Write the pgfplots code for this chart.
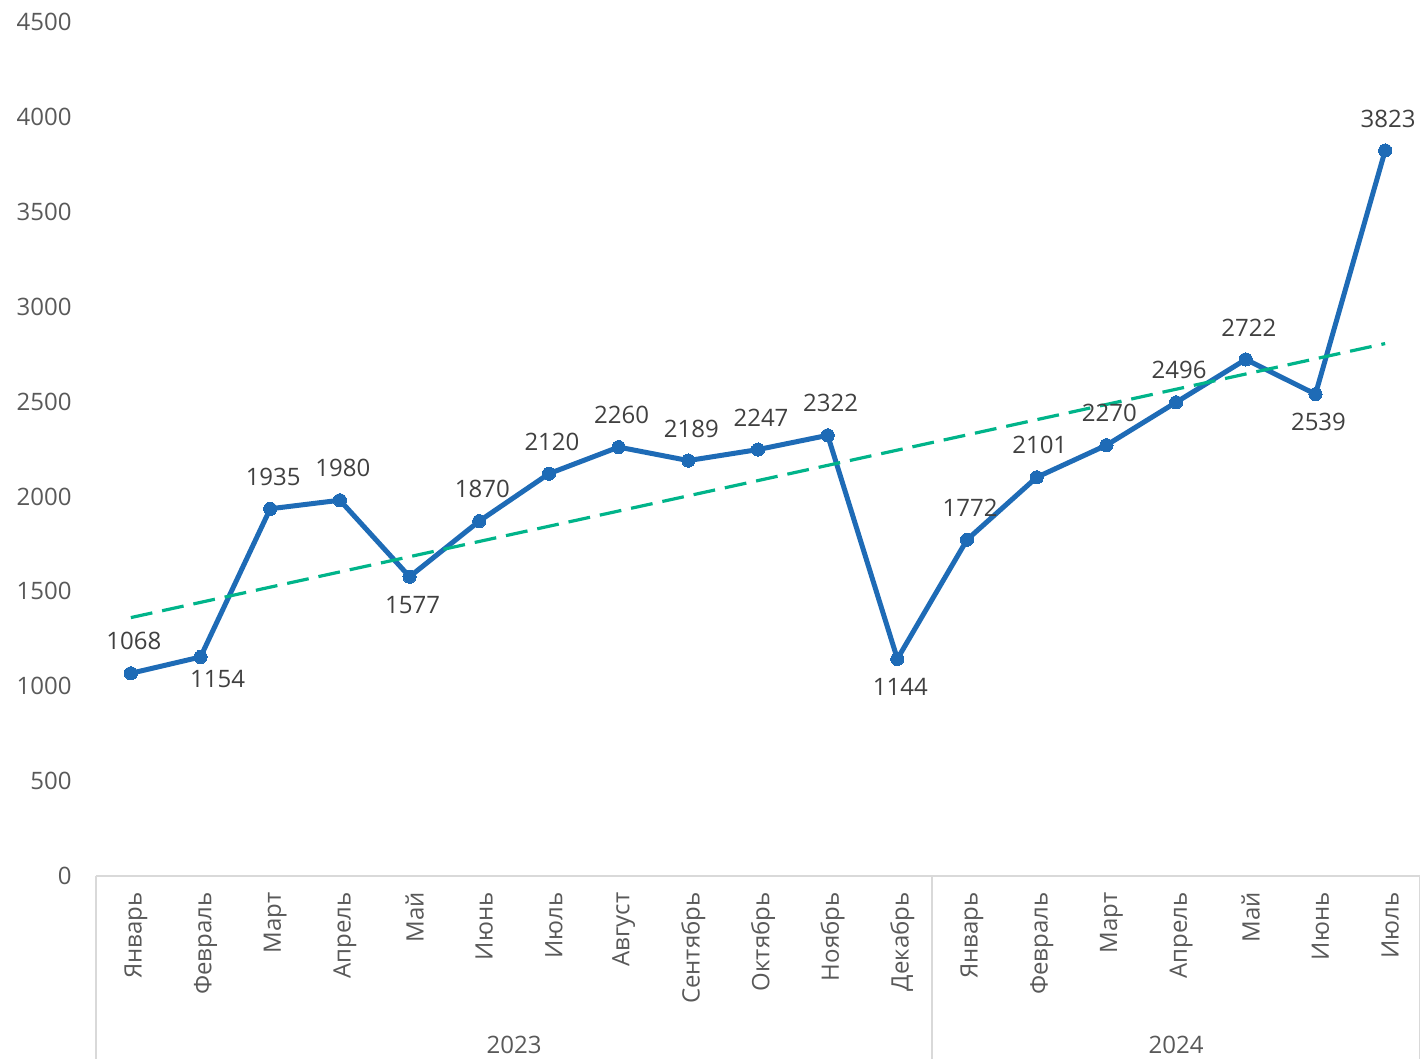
\documentclass[border=0pt]{standalone}
\usepackage{pgfplots}
\pgfplotsset{compat=1.18}
\usepackage{fontspec}
\setmainfont{Open Sans}
\definecolor{lineBlue}{HTML}{1E6BB6}
\definecolor{trendGreen}{HTML}{00B48A}
\definecolor{tickGray}{HTML}{595959}
\definecolor{lblGray}{HTML}{404040}
\definecolor{sepGray}{HTML}{D9D9D9}
\begin{document}
\begin{tikzpicture}[font=\fontsize{12}{14}\selectfont]
\useasboundingbox (-48pt,-91.5pt) rectangle (662pt,438pt);
\begin{axis}[
  at={(0,0)}, anchor=south west,
  scale only axis, width=662pt, height=427pt,
  xmin=-0.5, xmax=18.5, ymin=0, ymax=4500,
  ytick={0,500,...,4500},
  xtick={0,...,18},
  xticklabels={Январь,Февраль,Март,Апрель,Май,Июнь,Июль,Август,Сентябрь,Октябрь,Ноябрь,Декабрь,Январь,Февраль,Март,Апрель,Май,Июнь,Июль},
  separate axis lines,
  axis x line*=bottom, axis y line*=left,
  y axis line style={draw=none},
  x axis line style={draw=sepGray, line width=1pt, -},
  major tick length=0pt,
  /pgf/number format/1000 sep={},
  /pgf/number format/assume math mode=true,
  yticklabel style={anchor=east, inner sep=0pt, xshift=-12pt, text=tickGray, font=\fontsize{12}{14}\selectfont},
  xticklabel style={rotate=90, anchor=east, inner sep=0pt, xshift=-8pt, yshift=-2.5pt, text=tickGray, font=\fontsize{12}{14}\selectfont},
  clip=false,
]
\addplot[lineBlue, line width=2.5pt, mark=*, mark size=3.3pt, mark options={fill=lineBlue, draw=lineBlue, line width=0pt}, line join=round]
coordinates {(0,1068)(1,1154)(2,1935)(3,1980)(4,1577)(5,1870)(6,2120)(7,2260)(8,2189)(9,2247)(10,2322)(11,1144)(12,1772)(13,2101)(14,2270)(15,2496)(16,2722)(17,2539)(18,3823)};
\addplot[trendGreen, line width=1.6pt, dash pattern=on 11pt off 5pt]
coordinates {(0,1361.6)(18,2805.6)};
% labels above
\addplot[draw=none, mark=none, nodes near coords, point meta=y,
  every node near coord/.append style={anchor=center, inner sep=0pt, yshift=16pt, xshift=1.5pt, text=lblGray, font=\fontsize{12}{14}\selectfont}]
coordinates {(0,1068)(2,1935)(3,1980)(5,1870)(6,2120)(7,2260)(8,2189)(9,2247)(10,2322)(12,1772)(13,2101)(14,2270)(15,2496)(16,2722)(18,3823)};
% labels below
\addplot[draw=none, mark=none, nodes near coords, point meta=y,
  every node near coord/.append style={anchor=center, inner sep=0pt, yshift=-14pt, xshift=1.5pt, text=lblGray, font=\fontsize{12}{14}\selectfont}]
coordinates {(4,1577)(11,1144)(17,2539)};
\addplot[draw=none, mark=none, nodes near coords, point meta=y,
  every node near coord/.append style={anchor=center, inner sep=0pt, yshift=-11pt, xshift=8.5pt, text=lblGray, font=\fontsize{12}{14}\selectfont}]
coordinates {(1,1154)};
% group separators
\draw[sepGray, line width=1pt] (axis cs:-0.5,0) -- ++(0pt,-91.5pt);
\draw[sepGray, line width=1pt] (axis cs:11.5,0) -- ++(0pt,-91.5pt);
\draw[sepGray, line width=1pt] (axis cs:18.5,0) -- ++(0pt,-91.5pt);
\node[text=tickGray, anchor=center] at ([yshift=-84.5pt]axis cs:5.5,0) {2023};
\node[text=tickGray, anchor=center] at ([yshift=-84.5pt]axis cs:15,0) {2024};
\end{axis}
\end{tikzpicture}
\end{document}
